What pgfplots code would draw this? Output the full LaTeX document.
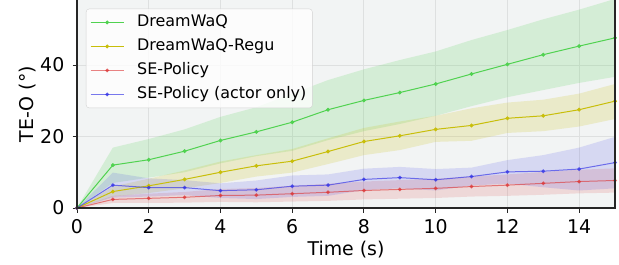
\documentclass[border=0pt]{standalone}
\usepackage{fontspec}
\setmainfont{DejaVu Sans}
\usepackage{pgfplots}
\pgfplotsset{compat=1.18}
\usepackage{pgfplotstable}
\usepgfplotslibrary{fillbetween}

\definecolor{bgc}{RGB}{242,244,244}
\definecolor{gridc}{RGB}{222,224,224}
\definecolor{cg}{RGB}{80,210,80}
\definecolor{cy}{RGB}{200,190,10}
\definecolor{cr}{RGB}{220,50,50}
\definecolor{cb}{RGB}{50,50,230}
\definecolor{spc}{RGB}{38,38,38}
\definecolor{legc}{RGB}{210,210,210}

% t, mean, lower, upper
\pgfplotstableread{
t m lo hi
0 0 0 0
1 12.0 7.0 16.9
2 13.5 8.5 19.3
3 15.9 10.0 22.0
4 18.9 12.5 25.5
5 21.3 14.5 28.2
6 24.0 16.0 32.0
7 27.5 19.0 35.8
8 30.1 21.5 38.8
9 32.3 23.5 41.4
10 34.7 25.8 43.8
11 37.5 28.5 47.0
12 40.2 31.0 49.8
13 42.9 33.0 52.8
14 45.3 35.0 55.5
15 47.6 36.7 58.5
}\dwaq

\pgfplotstableread{
t m lo hi
0 0 0 0
1 4.6 3.2 6.0
2 6.2 4.2 8.2
3 8.0 5.5 10.5
4 10.0 7.0 13.0
5 11.8 8.8 14.8
6 13.1 9.9 16.5
7 15.8 12.3 19.5
8 18.6 14.8 22.4
9 20.2 16.2 24.2
10 22.0 18.5 25.8
11 23.1 18.8 27.9
12 25.1 21.0 29.5
13 25.8 21.5 30.3
14 27.5 22.8 32.0
15 29.9 24.9 34.7
}\regu

\pgfplotstableread{
t m lo hi
0 0 0 0
1 2.4 1.4 3.4
2 2.7 1.4 4.0
3 3.0 1.5 4.5
4 3.5 1.7 5.3
5 3.6 1.6 5.6
6 4.0 1.8 6.2
7 4.4 2.0 6.8
8 4.9 2.4 7.4
9 5.2 2.6 7.8
10 5.5 2.8 8.2
11 6.0 3.2 8.8
12 6.4 3.4 9.4
13 6.9 3.7 10.1
14 7.4 4.1 10.7
15 7.7 4.3 11.1
}\sepol

\pgfplotstableread{
t m lo hi
0 0 0 0
1 6.4 2.9 9.9
2 5.7 3.2 8.3
3 5.7 3.6 7.8
4 4.85 2.8 6.9
5 5.1 2.5 7.7
6 6.1 3.1 9.1
7 6.4 3.4 9.4
8 8.0 5.0 11.0
9 8.5 5.5 11.5
10 7.9 4.9 10.9
11 8.8 6.3 11.3
12 10.1 6.8 13.4
13 10.3 5.8 14.8
14 10.9 4.9 16.9
15 12.7 5.5 19.9
}\actor

\begin{document}
\begin{tikzpicture}
\begin{axis}[
  scale only axis, width=538bp, height=208bp,
  xmin=0, xmax=15, ymin=0, ymax=58.2,
  xtick={0,2,...,14}, ytick={0,20,40},
  axis background/.style={fill=bgc},
  grid=major, major grid style={gridc, line width=1bp},
  axis line style={draw=none},
  tick pos=left, tick align=outside, major tick length=4.5bp,
  tick style={spc, line width=0.9bp},
  /pgf/number format/assume math mode=true,
  ticklabel style={font=\fontsize{19}{22}\selectfont},
  xticklabel style={anchor=base, yshift=-21bp, inner sep=0pt},
  yticklabel style={anchor=east, inner sep=0pt, xshift=-8bp},
  label style={font=\fontsize{19}{22}\selectfont},
  xlabel={Time (s)}, ylabel={TE-O (°)},
  xlabel style={at={(axis description cs:0.5,-0.226)}, anchor=base},
  ylabel style={at={(axis description cs:-0.0911,0.5)}, anchor=center},
  legend style={at={(axis description cs:0.0167,0.958)}, anchor=north west,
    font=\fontsize{16}{19}\selectfont, draw=legc, fill=white, fill opacity=0.8,
    text opacity=1, rounded corners=3bp, inner xsep=4bp, inner ysep=3.5bp,
    row sep=4bp, column sep=11bp, nodes={inner sep=2bp, text height=12bp, text depth=4bp}},
  legend cell align=left,
  legend image code/.code={\draw[mark repeat=2, mark phase=2, #1] plot coordinates {(0bp,0bp) (16.5bp,0bp) (33bp,0bp)};},
]
\addplot[name path=gu, draw=none, forget plot] table[x=t, y=hi] {\dwaq};
\addplot[name path=gl, draw=none, forget plot] table[x=t, y=lo] {\dwaq};
\addplot[fill=cg, fill opacity=0.18, draw=none, forget plot] fill between[of=gu and gl];
\addplot[name path=yu, draw=none, forget plot] table[x=t, y=hi] {\regu};
\addplot[name path=yl, draw=none, forget plot] table[x=t, y=lo] {\regu};
\addplot[fill=cy, fill opacity=0.18, draw=none, forget plot] fill between[of=yu and yl];
\addplot[name path=ru, draw=none, forget plot] table[x=t, y=hi] {\sepol};
\addplot[name path=rl, draw=none, forget plot] table[x=t, y=lo] {\sepol};
\addplot[fill=cr, fill opacity=0.14, draw=none, forget plot] fill between[of=ru and rl];
\addplot[name path=bu, draw=none, forget plot] table[x=t, y=hi] {\actor};
\addplot[name path=bl, draw=none, forget plot] table[x=t, y=lo] {\actor};
\addplot[fill=cb, fill opacity=0.14, draw=none, forget plot] fill between[of=bu and bl];

\addplot[cg, line width=1bp, mark=*, mark size=1.4bp] table[x=t, y=m] {\dwaq};
\addlegendentry{DreamWaQ}
\addplot[cy, line width=1bp, mark=*, mark size=1.4bp] table[x=t, y=m] {\regu};
\addlegendentry{DreamWaQ-Regu}
\addplot[cr, opacity=0.6, line width=1bp, mark=*, mark size=1.4bp] table[x=t, y=m] {\sepol};
\addlegendentry{SE-Policy}
\addplot[cb, opacity=0.65, line width=1bp, mark=*, mark size=1.4bp] table[x=t, y=m] {\actor};
\addlegendentry{SE-Policy (actor only)}

\coordinate (TL) at (rel axis cs:0,1);
\coordinate (BL) at (rel axis cs:0,0);
\coordinate (BR) at (rel axis cs:1,0);
\coordinate (TR) at (rel axis cs:1,1);
\end{axis}
\draw[spc, line width=1.1bp] (TL) -- (BL) -- (BR) -- (TR);
\pgfresetboundingbox
\path (BL) ++(-77bp,-57bp) rectangle ++(619bp,265bp);
\end{tikzpicture}
\end{document}
